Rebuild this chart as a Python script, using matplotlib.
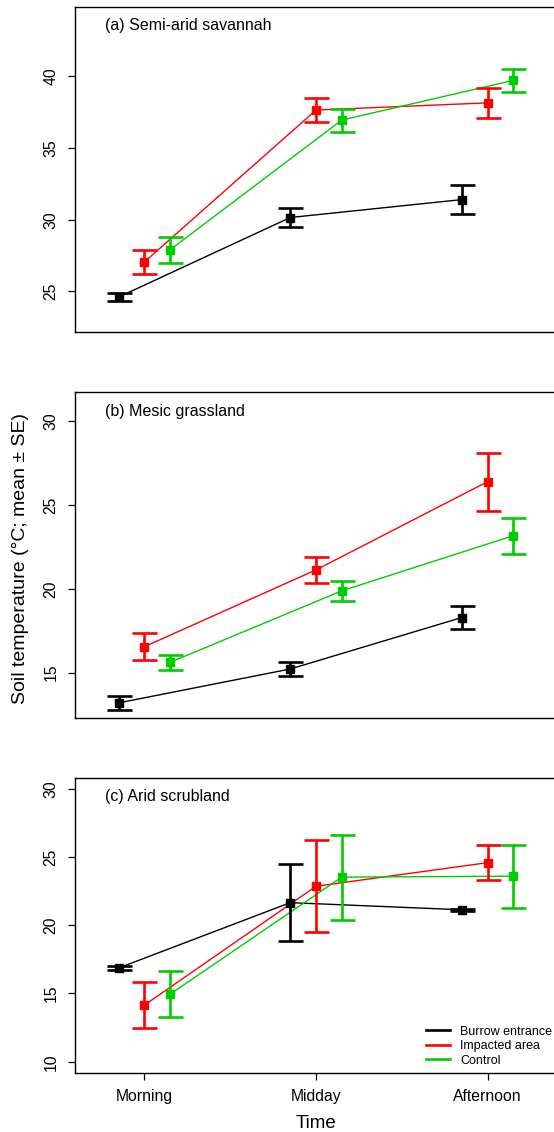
import numpy as np
import matplotlib.pyplot as plt

plt.rcParams['font.family'] = ['Liberation Sans', 'DejaVu Sans']

# data
times = ['Morning', 'Midday', 'Afternoon']
groups = ['Burrow entrance', 'Impacted area', 'Control']
colors = ['black', '#FF0000', '#00CD00']
offsets = [-0.15, 0.0, 0.15]

titles = ['(a) Semi-arid savannah', '(b) Mesic grassland', '(c) Arid scrubland']

# panel (a)
sav_mean = [[24.6, 30.15, 31.4], [27.05, 37.65, 38.15], [27.9, 36.95, 39.72]]
sav_se = [[0.28, 0.65, 1.0], [0.86, 0.83, 1.03], [0.9, 0.8, 0.78]]
# panel (b)
mes_mean = [[13.2, 15.22, 18.29], [16.55, 21.13, 26.39], [15.62, 19.88, 23.17]]
mes_se = [[0.42, 0.4, 0.7], [0.8, 0.79, 1.72], [0.43, 0.6, 1.08]]
# panel (c)
ari_mean = [[16.87, 21.65, 21.13], [14.15, 22.85, 24.58], [14.95, 23.52, 23.59]]
ari_se = [[0.17, 2.8, 0.08], [1.7, 3.38, 1.3], [1.7, 3.12, 2.3]]

means = [sav_mean, mes_mean, ari_mean]
ses = [sav_se, mes_se, ari_se]
ylims = [(22.16, 44.84), (12.28, 31.72), (9.2, 30.8)]
yticks = [[25, 30, 35, 40], [15, 20, 25, 30], [10, 15, 20, 25, 30]]

W, H = 554, 1132
fig = plt.figure(figsize=(W / 100, H / 100), dpi=100)

# axes boxes in pixels (left, top, right, bottom)
boxes = [(75.3, 7, 556.2, 332), (75.3, 392.3, 556.2, 718.3), (75.3, 777.7, 556.2, 1072.7)]

x = np.arange(1, 4)
for p in range(3):
    l, t, r, b = boxes[p]
    ax = fig.add_axes([l / W, 1 - b / H, (r - l) / W, (b - t) / H])
    for g in range(3):
        xs = x + offsets[g]
        ax.plot(xs, means[p][g], color=colors[g], lw=1.0, zorder=2)
        ax.errorbar(xs, means[p][g], yerr=ses[p][g], fmt='s', color=colors[g],
                    ms=5.8, elinewidth=1.9, capsize=9, capthick=1.9, zorder=3,
                    label=groups[g])
    ax.set_xlim(0.597, 3.4)
    ax.set_ylim(*ylims[p])
    ax.set_yticks(yticks[p])
    ax.set_yticklabels([str(v) for v in yticks[p]], rotation=90, va='center')
    ax.tick_params(axis='y', length=5, width=0.9, pad=7, labelsize=11.3)
    for s in ax.spines.values():
        s.set_linewidth(1.0)
    ax.annotate(titles[p], xy=(0, 1), xycoords='axes fraction', xytext=(21.1, -13.5),
                textcoords='offset points', ha='left', va='center', fontsize=11.5)
    if p < 2:
        ax.set_xticks([])
    else:
        ax.set_xticks(x)
        ax.set_xticklabels(times)
        ax.tick_params(axis='x', length=5, width=0.9, pad=7, labelsize=11.3)
        handles = [plt.Line2D([], [], color=c, lw=1.9) for c in colors]
        ax.legend(handles, groups, loc='lower left', bbox_to_anchor=(0.729, 0.02),
                  frameon=False, fontsize=9, handlelength=1.9, handletextpad=0.84,
                  labelspacing=0.2, borderpad=0, borderaxespad=0)

fig.text(21 / W, 0.507, 'Soil temperature (°C; mean ± SE)', rotation=90,
         ha='center', va='center', fontsize=14)
fig.text(316 / W, 1 - 1123 / H, 'Time', ha='center', va='center', fontsize=13.5)

fig.savefig('out.png', dpi=100)
